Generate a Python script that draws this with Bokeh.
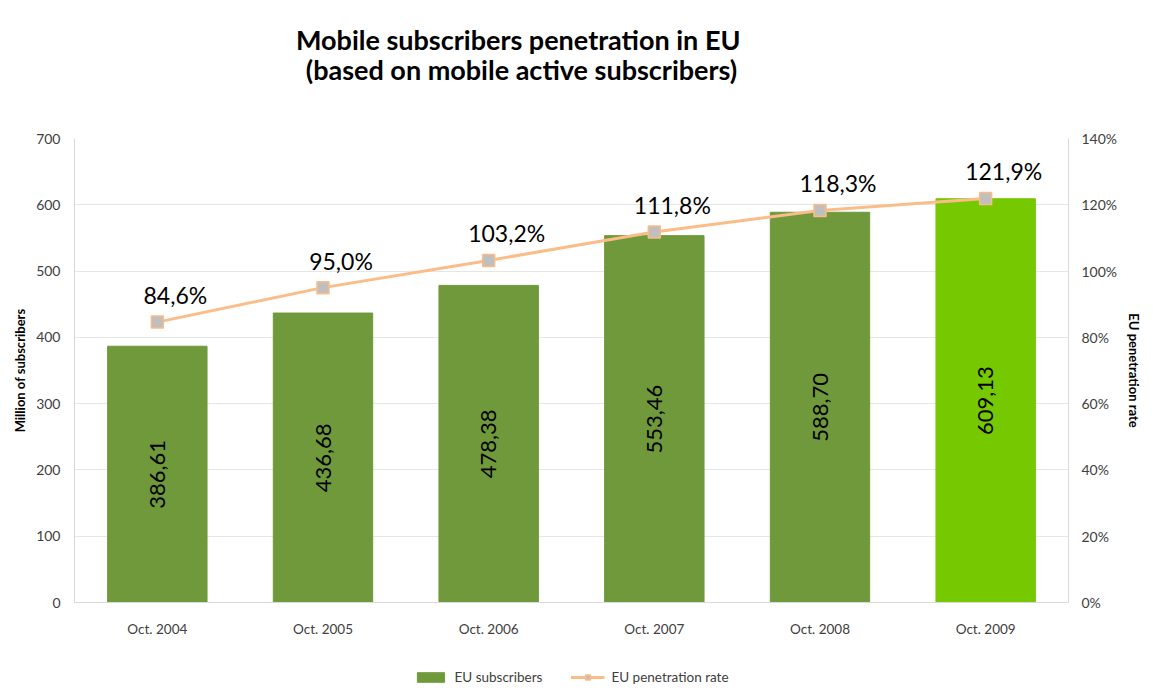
import math
from bokeh.plotting import figure
from bokeh.layouts import column
from bokeh.models import (FactorRange, Range1d, LinearAxis, Label, Legend, LegendItem,
                          NumeralTickFormatter, FixedTicker, ColumnDataSource)
from bokeh.core.properties import value
from bokeh.embed import file_html
from bokeh.resources import INLINE

title_lines = ["Mobile subscribers  penetration in EU", "(based on mobile active subscribers)"]
categories = ["Oct. 2004", "Oct. 2005", "Oct. 2006", "Oct. 2007", "Oct. 2008", "Oct. 2009"]
subscribers = [386.61, 436.68, 478.38, 553.46, 588.70, 609.13]
penetration = [0.846, 0.950, 1.032, 1.118, 1.183, 1.219]
bar_colors = ["#6f993a", "#6f993a", "#6f993a", "#6f993a", "#6f993a", "#76c800"]

FONT = "Lato"
LINE_COLOR = "#fbbd87"
W = 1145

sub_labels = [f"{v:.2f}".replace(".", ",") for v in subscribers]
pen_labels = [f"{v*100:.1f}".replace(".", ",") + "%" for v in penetration]

src = ColumnDataSource(dict(
    x=categories, sub=subscribers, half=[v / 2 for v in subscribers],
    sub_lab=sub_labels, pen=penetration, pen_lab=pen_labels, color=bar_colors,
))

# ---- title strip ----
tf = figure(width=W, height=100, x_range=Range1d(0, 1), y_range=Range1d(0, 1),
            output_backend="svg", toolbar_location=None, x_axis_type=None, y_axis_type=None,
            min_border=0)
tf.outline_line_color = None
tf.grid.visible = False
for txt, yy in zip(title_lines, [61, 31]):
    tf.add_layout(Label(x=447, y=yy, x_units="screen", y_units="screen", text=txt,
                        text_align="center", text_baseline="middle", text_font=FONT,
                        text_font_size="27px", text_font_style="bold", text_color="#000000"))

# ---- main chart ----
p = figure(width=W, height=562, x_range=FactorRange(*categories), y_range=Range1d(0, 700),
           output_backend="svg", toolbar_location=None,
           min_border_left=74, min_border_right=75, min_border_top=38, min_border_bottom=60)
p.outline_line_color = None
p.extra_y_ranges = {"pct": Range1d(0, 1.4)}

bars = p.vbar(x="x", top="sub", width=0.6, color="color", source=src)
p.text(x="x", y="half", text="sub_lab", angle=math.pi / 2, text_align="center",
       text_baseline="middle", text_font=value(FONT), text_font_size="22px",
       text_color="#000000", source=src)

line = p.line(x="x", y="pen", line_color=LINE_COLOR, line_width=3, y_range_name="pct", source=src)
marks = p.scatter(x="x", y="pen", marker="square", size=12, fill_color="#bfbfbf",
                  line_color=LINE_COLOR, line_width=1.5, y_range_name="pct", source=src)
p.text(x="x", y="pen", text="pen_lab", text_align="center", text_baseline="middle",
       x_offset=18, y_offset=-27, text_font=value(FONT), text_font_size="23px",
       text_color="#000000", y_range_name="pct", source=src)

# axes
p.yaxis.ticker = FixedTicker(ticks=list(range(0, 701, 100)))
p.yaxis.axis_label = "Million of subscribers"
right = LinearAxis(y_range_name="pct", ticker=FixedTicker(ticks=[i / 10 for i in range(0, 15, 2)]),
                   formatter=NumeralTickFormatter(format="0%"), axis_label="EU penetration rate")
p.add_layout(right, "right")

for ax in [p.yaxis[0], right, p.xaxis[0]]:
    ax.axis_line_color = "#d9d9d9"
    ax.major_tick_line_color = None
    ax.minor_tick_line_color = None
    ax.major_label_text_font = FONT
    ax.major_label_text_font_size = "14px"
    ax.major_label_text_color = "#404040"
    ax.axis_label_text_font = FONT
    ax.axis_label_text_font_size = "13px"
    ax.axis_label_text_font_style = "bold"
    ax.axis_label_text_color = "#000000"
p.xaxis.major_label_text_font_size = "13.5px"
p.yaxis[0].major_label_standoff = 8
right.major_label_standoff = 7
right.axis_label_standoff = 6
p.xaxis.major_label_standoff = 12

p.xgrid.grid_line_color = None
p.ygrid.grid_line_color = "#e6e6e6"

# ---- legend strip below the chart (hidden copies of the series renderers) ----
lf = figure(width=W, height=30, x_range=FactorRange(*categories), y_range=Range1d(0, 1),
            output_backend="svg", toolbar_location=None, x_axis_type=None, y_axis_type=None,
            min_border=0)
lf.outline_line_color = None
lf.grid.visible = False
lb = lf.vbar(x="x", top="sub", width=0.6, color=bar_colors[0], source=src, visible=False)
ll = lf.line(x="x", y="pen", line_color=LINE_COLOR, line_width=3, source=src, visible=False)
lm = lf.scatter(x="x", y="pen", marker="square", size=10, fill_color="#bfbfbf",
                line_color=LINE_COLOR, line_width=1.5, source=src, visible=False)
legend = Legend(items=[LegendItem(label="EU subscribers", renderers=[lb]),
                       LegendItem(label="EU penetration rate", renderers=[ll, lm])],
                orientation="horizontal", location="center", border_line_color=None,
                background_fill_alpha=0, label_standoff=7,
                label_text_font=FONT, label_text_font_size="13.5px", label_text_color="#404040",
                glyph_width=34, glyph_height=12, spacing=28, margin=0, padding=2)
lf.add_layout(legend, "center")

open("out.html", "w").write(file_html(column(tf, p, lf, spacing=0), INLINE))
